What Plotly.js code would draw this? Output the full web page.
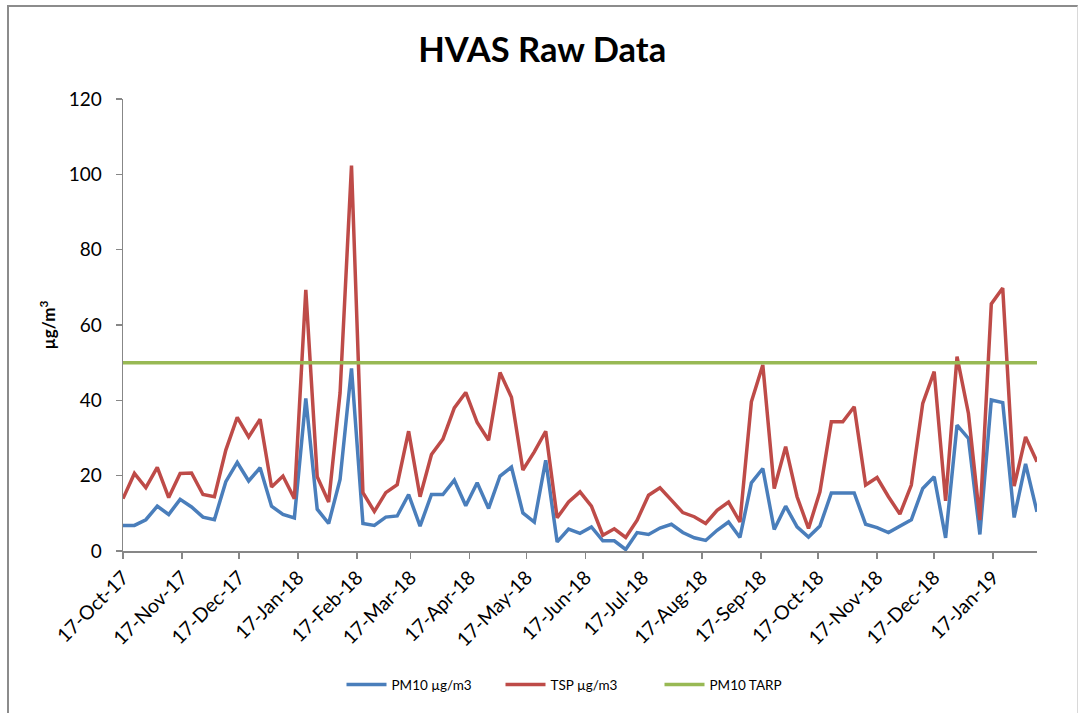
<!DOCTYPE html>
<html>
<head>
<meta charset="utf-8">
<script src="https://cdn.plot.ly/plotly-3.0.1.min.js"></script>
<style>
  html, body { margin: 0; padding: 0; background: #fff; }
  #wrap { position: relative; width: 1078px; height: 713px; }
  #chart { position: absolute; left: 0; top: 0; width: 1078px; height: 713px; }
  #frame { position: absolute; left: 7px; top: 5px; width: 1068px; height: 720px;
           border-left: 2px solid #8c8c8c; border-top: 2px solid #8c8c8c; border-right: 1px solid #d9d9d9;
           pointer-events: none; }
</style>
</head>
<body>
<div id="wrap">
  <div id="chart"></div>
  <div id="frame"></div>
</div>
<script>
// Sampling dates (one-in-six-day HVAS runs)
const dates = [
  '2017-10-17','2017-10-23','2017-10-29','2017-11-04','2017-11-10','2017-11-16','2017-11-22','2017-11-28',
  '2017-12-04','2017-12-10','2017-12-16','2017-12-22','2017-12-28','2018-01-03','2018-01-09','2018-01-15',
  '2018-01-21','2018-01-27','2018-02-02','2018-02-08','2018-02-14','2018-02-20','2018-02-26','2018-03-04',
  '2018-03-10','2018-03-16','2018-03-22','2018-03-28','2018-04-03','2018-04-09','2018-04-15','2018-04-21',
  '2018-04-27','2018-05-03','2018-05-09','2018-05-15','2018-05-21','2018-05-27','2018-06-02','2018-06-08',
  '2018-06-14','2018-06-20','2018-06-26','2018-07-02','2018-07-08','2018-07-14','2018-07-20','2018-07-26',
  '2018-08-01','2018-08-07','2018-08-13','2018-08-19','2018-08-25','2018-08-31','2018-09-06','2018-09-12',
  '2018-09-18','2018-09-24','2018-09-30','2018-10-06','2018-10-12','2018-10-18','2018-10-24','2018-10-30',
  '2018-11-05','2018-11-11','2018-11-17','2018-11-23','2018-11-29','2018-12-05','2018-12-11','2018-12-17',
  '2018-12-23','2018-12-29','2019-01-04','2019-01-10','2019-01-16','2019-01-22','2019-01-28','2019-02-03',
  '2019-02-09'
];

// PM10 µg/m3
const pm10 = [
  6.8, 6.8, 8.3, 11.9, 9.7, 13.7, 11.7, 9.0,
  8.3, 18.4, 23.5, 18.6, 22.1, 11.9, 9.7, 8.8,
  40.5, 11.1, 7.3, 19.0, 48.5, 7.3, 6.8, 9.0,
  9.3, 15.0, 6.6, 15.0, 15.0, 18.8, 12.0, 18.1,
  11.3, 19.9, 22.3, 10.1, 7.7, 24.1, 2.4, 5.8,
  4.7, 6.4, 2.7, 2.7, 0.4, 4.9, 4.4, 6.1,
  7.1, 4.9, 3.5, 2.8, 5.5, 7.7, 3.6, 18.1,
  21.9, 5.7, 11.9, 6.4, 3.7, 6.6, 15.4, 15.4,
  15.4, 7.1, 6.2, 4.9, 6.6, 8.3, 16.6, 19.7,
  3.5, 33.4, 29.9, 4.4, 40.1, 39.4, 8.9, 23.1,
  10.4
];

// TSP µg/m3
const tsp = [
  13.9, 20.6, 16.8, 22.2, 14.2, 20.6, 20.7, 15.0,
  14.4, 26.8, 35.5, 30.3, 35.0, 17.0, 19.9, 13.9,
  69.3, 19.7, 13.0, 42.0, 102.3, 15.5, 10.5, 15.5,
  17.6, 31.8, 14.4, 25.6, 29.7, 38.0, 42.1, 34.1,
  29.4, 47.4, 40.8, 21.5, 26.3, 31.8, 8.8, 13.0,
  15.7, 11.9, 4.2, 5.9, 3.6, 8.2, 14.8, 16.8,
  13.5, 10.2, 9.1, 7.3, 10.8, 13.0, 7.7, 39.6,
  49.4, 16.6, 27.7, 14.4, 6.0, 15.7, 34.3, 34.3,
  38.3, 17.5, 19.5, 14.4, 9.8, 17.5, 39.2, 47.6,
  13.3, 51.6, 36.5, 8.2, 65.6, 69.8, 17.2, 30.3,
  23.7
];

// PM10 TARP criterion
const tarpDates = ['2017-10-17', '2019-02-09'];
const tarpValues = [50, 50];

// Axis ticks
const xTickVals = ['2017-10-17','2017-11-17','2017-12-17','2018-01-17','2018-02-17','2018-03-17','2018-04-17',
  '2018-05-17','2018-06-17','2018-07-17','2018-08-17','2018-09-17','2018-10-17','2018-11-17','2018-12-17','2019-01-17'];
const xTickText = ['17-Oct-17','17-Nov-17','17-Dec-17','17-Jan-18','17-Feb-18','17-Mar-18','17-Apr-18',
  '17-May-18','17-Jun-18','17-Jul-18','17-Aug-18','17-Sep-18','17-Oct-18','17-Nov-18','17-Dec-18','17-Jan-19'];

const FONT = 'Lato, "Open Sans", "Liberation Sans", sans-serif';
const AXIS_COLOR = '#878787';

const traces = [
  { x: dates, y: pm10, type: 'scatter', mode: 'lines', name: 'PM10 µg/m3',
    line: { color: '#4a7ebb', width: 3.5 } },
  { x: dates, y: tsp, type: 'scatter', mode: 'lines', name: 'TSP µg/m3',
    line: { color: '#be4b48', width: 3.5 } },
  { x: tarpDates, y: tarpValues, type: 'scatter', mode: 'lines', name: 'PM10 TARP',
    line: { color: '#98b954', width: 3.5 } }
];

const layout = {
  width: 1078, height: 713,
  paper_bgcolor: 'rgba(0,0,0,0)', plot_bgcolor: '#fff',
  margin: { l: 123, r: 41, t: 99, b: 162, pad: 0 },
  font: { family: FONT, color: '#000' },
  title: { text: '<b>HVAS Raw Data</b>', font: { family: FONT, size: 34.5, color: '#000' },
           x: 0.503, xanchor: 'center', y: 0.93, yanchor: 'middle' },
  showlegend: true,
  legend: { orientation: 'h', x: 0.5, xanchor: 'center', y: -0.296, yanchor: 'middle',
            font: { family: FONT, size: 13.5, color: '#000' }, itemwidth: 40, tracegroupgap: 0,
            entrywidth: 104 },
  xaxis: {
    type: 'date', range: ['2017-10-17', '2019-02-09'],
    tickmode: 'array', tickvals: xTickVals, ticktext: xTickText, tickangle: -45,
    tickfont: { family: FONT, size: 19.5, color: '#000' },
    ticks: 'outside', ticklen: 6, tickwidth: 1.5, tickcolor: AXIS_COLOR,
    showline: true, linecolor: AXIS_COLOR, linewidth: 1.5,
    showgrid: false, zeroline: false, automargin: false
  },
  yaxis: {
    range: [0, 120], dtick: 20, tick0: 0,
    tickfont: { family: FONT, size: 19, color: '#000' },
    ticks: 'outside', ticklen: 6, tickwidth: 1.5, tickcolor: AXIS_COLOR, ticklabelstandoff: 10,
    showline: true, linecolor: AXIS_COLOR, linewidth: 1.5,
    showgrid: false, zeroline: false, automargin: false,
    title: { text: '<b>µg/m<sup>3</sup></b>', font: { family: FONT, size: 17, color: '#000' }, standoff: 8 }
  }
};

Plotly.newPlot('chart', traces, layout, { displayModeBar: false, staticPlot: true });
</script>
</body>
</html>
